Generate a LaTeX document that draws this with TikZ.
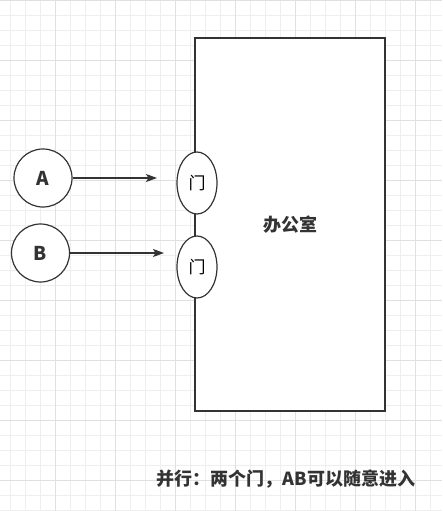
\documentclass[tikz,border=0pt]{standalone}
\usepackage{fontspec}
\setmainfont{Noto Sans CJK SC}
\usetikzlibrary{shapes.geometric,arrows.meta}
\definecolor{ink}{HTML}{333333}
\definecolor{gridminor}{HTML}{EEEEEE}
\definecolor{gridmajor}{HTML}{E0E0E0}
\tikzset{
  minorgrid/.style={gridminor, line width=0.8pt},
  majorgrid/.style={gridmajor, line width=0.9pt},
  room/.style={draw=ink, fill=white, line width=1.6pt, rectangle, inner sep=0pt, font=\fontsize{18}{20}\selectfont\bfseries, text=ink},
  door/.style={draw=ink, fill=white, line width=1.2pt, ellipse, inner sep=0pt, minimum width=40pt, minimum height=62pt, font=\fontsize{17}{19}\selectfont, text=black},
  person/.style={draw=ink, fill=white, line width=1.2pt, circle, inner sep=0pt, minimum size=58pt, font=\fontsize{19}{21}\selectfont\bfseries, text=ink},
  arr/.style={draw=ink, line width=1.2pt, -{Stealth[length=11pt,width=8pt,inset=2.5pt]}},
  caption/.style={font=\fontsize{18}{20}\selectfont\bfseries, text=ink}
}
\begin{document}
\begin{tikzpicture}[x=1pt,y=-1pt]
\useasboundingbox (0,0) rectangle (442,511);
\fill[white] (0,0) rectangle (442,511);
\foreach \x in {10,25,...,440} \draw[minorgrid] (\x,0) -- (\x,511);
\foreach \y in {0,15,...,510} \draw[minorgrid] (0,\y) -- (442,\y);
\foreach \x in {55,115,...,440} \draw[majorgrid] (\x,0) -- (\x,511);
\foreach \y in {0,60,...,510} \draw[majorgrid] (0,\y) -- (442,\y);

\node[room, minimum width=190pt, minimum height=373pt] (office) at (290,224.5) {办公室};
\node[door] (door1) at (197,183) {门};
\node[door] (door2) at (197,267) {门};
\node[person] (A) at (43,178) {A};
\node[person] (B) at (40.5,253) {B};
\coordinate (ta) at (157,178);
\coordinate (tb) at (164,253);
\draw[arr] (A.east) -- (ta);
\draw[arr] (B.east) -- (tb);
\node[caption] (cap) at (286,479) {并行：两个门，AB可以随意进入};
\end{tikzpicture}
\end{document}
